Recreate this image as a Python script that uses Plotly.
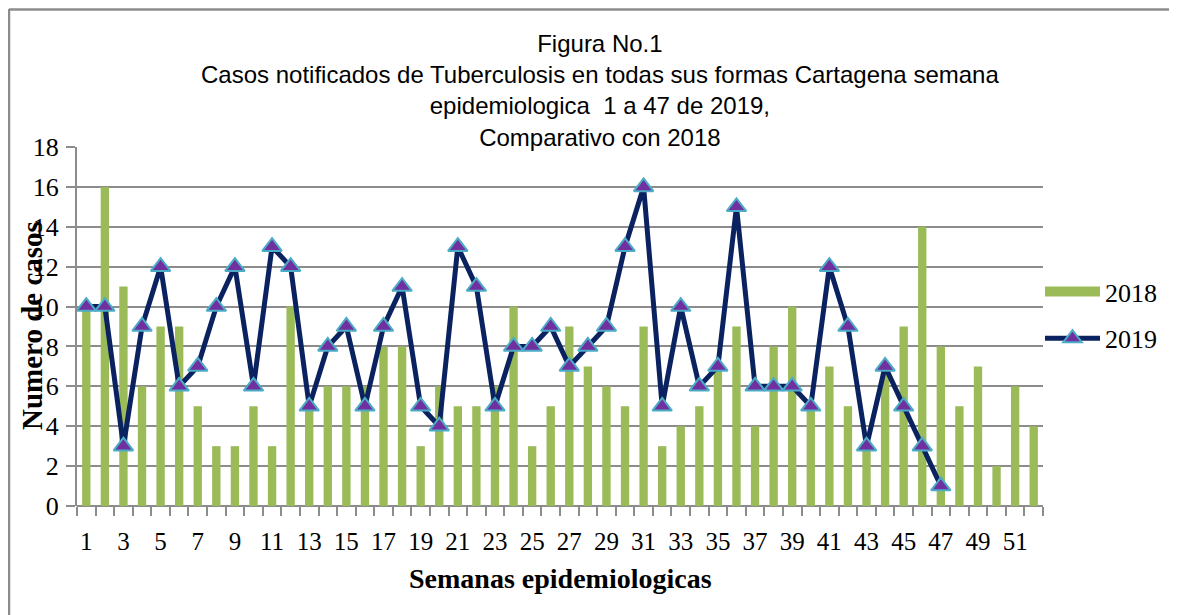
import plotly.graph_objects as go

weeks_2018 = list(range(1, 53))
cases_2018 = [10, 16, 11, 6, 9, 9, 5, 3, 3, 5, 3, 10, 5, 6, 6, 6, 8, 8, 3, 6,
              5, 5, 6, 10, 3, 5, 9, 7, 6, 5, 9, 3, 4, 5, 7, 9, 4, 8, 10, 5,
              7, 5, 3, 7, 9, 14, 8, 5, 7, 2, 6, 4]
weeks_2019 = list(range(1, 48))
cases_2019 = [10, 10, 3, 9, 12, 6, 7, 10, 12, 6, 13, 12, 5, 8, 9, 5, 9, 11, 5, 4,
              13, 11, 5, 8, 8, 9, 7, 8, 9, 13, 16, 5, 10, 6, 7, 15, 6, 6, 6, 5,
              12, 9, 3, 7, 5, 3, 1]
tick_labels = [str(v) for v in range(1, 52, 2)]
y_ticks = list(range(0, 19, 2))

title_lines = ["Figura No.1",
               "Casos notificados de Tuberculosis en todas sus formas Cartagena semana",
               "epidemiologica  1 a 47 de 2019,",
               "Comparativo con 2018"]

W, H = 1177, 615
OFF = 8  # page body margin
L, R, T, B = 69, 142, 139, 117
pw, ph = W - L - R, H - T - B

def px_x(sx):
    return (sx - OFF - L) / pw

def px_y(sy):
    return (OFF + H - B - sy) / ph

serif = "Liberation Serif, DejaVu Serif, serif"
grid = "#8C8C8C"
green = "#9BBB59"

fig = go.Figure()
fig.add_trace(go.Bar(x=weeks_2018, y=cases_2018, name="2018", showlegend=False,
                     marker=dict(color=green, line=dict(width=0)),
                     width=0.45))
# legend entry for the bars (wide rectangle swatch like the original)
fig.add_trace(go.Scatter(x=[None], y=[None], name="2018", legendgroup="a",
                         mode="lines", line=dict(color=green, width=15)))
fig.add_trace(go.Scatter(x=weeks_2019, y=cases_2019, name="2019", legendgroup="b",
                         mode="lines+markers",
                         line=dict(color="#0B2260", width=5),
                         marker=dict(symbol="triangle-up", size=17, color="#7030A0",
                                     line=dict(color="#4BACC6", width=2))))

fig.update_layout(
    width=W, height=H,
    margin=dict(l=L, r=R, t=T, b=B),
    paper_bgcolor="white", plot_bgcolor="white",
    showlegend=True,
    legend=dict(x=px_x(1040), xanchor="left", y=px_y(315), yanchor="middle",
                font=dict(family=serif, size=26, color="black"),
                itemwidth=55,
                bgcolor="rgba(0,0,0,0)", tracegroupgap=10),
)
fig.update_xaxes(range=[0.5, 52.5], tickmode="array",
                 tickvals=list(range(1, 52, 2)), ticktext=tick_labels,
                 ticks="", showgrid=False, zeroline=False,
                 showline=False,
                 tickfont=dict(family=serif, size=25, color="black"),
                 ticklabelstandoff=18,
                 minor=dict(ticks="outside", tickmode="linear", tick0=0.5, dtick=1,
                            ticklen=9, tickcolor=grid, tickwidth=1.5, showgrid=False))
fig.update_yaxes(range=[0, 18], tickvals=y_ticks,
                 showgrid=True, gridcolor=grid, gridwidth=2,
                 zeroline=True, zerolinecolor=grid, zerolinewidth=2,
                 showline=True, linecolor=grid, linewidth=2,
                 ticks="outside", ticklen=9, tickcolor=grid, tickwidth=2,
                 ticklabelstandoff=2,
                 tickfont=dict(family=serif, size=26, color="black"))

fig.add_annotation(text="<br>".join(title_lines), xref="paper", yref="paper",
                   x=px_x(600), y=px_y(28), xanchor="center", yanchor="top",
                   showarrow=False,
                   font=dict(family="Liberation Sans, Arial, sans-serif", size=24, color="black"))
fig.add_annotation(text="<b>Numero de casos</b>", xref="paper", yref="paper",
                   x=px_x(32), y=px_y(326), xanchor="center", yanchor="middle",
                   textangle=-90, showarrow=False,
                   font=dict(family=serif, size=29, color="black"))
fig.add_annotation(text="<b>Semanas epidemiologicas</b>", xref="paper", yref="paper",
                   x=px_x(560), y=px_y(578), xanchor="center", yanchor="middle",
                   showarrow=False,
                   font=dict(family=serif, size=28, color="black"))

fig.add_shape(type="line", xref="paper", yref="paper",
              x0=px_x(9), x1=px_x(9), y0=px_y(9), y1=px_y(620),
              line=dict(color=grid, width=2.5))
fig.add_shape(type="line", xref="paper", yref="paper",
              x0=px_x(9), x1=px_x(1185), y0=px_y(9.5), y1=px_y(9.5),
              line=dict(color=grid, width=2.5))

fig.write_html("out.html")
